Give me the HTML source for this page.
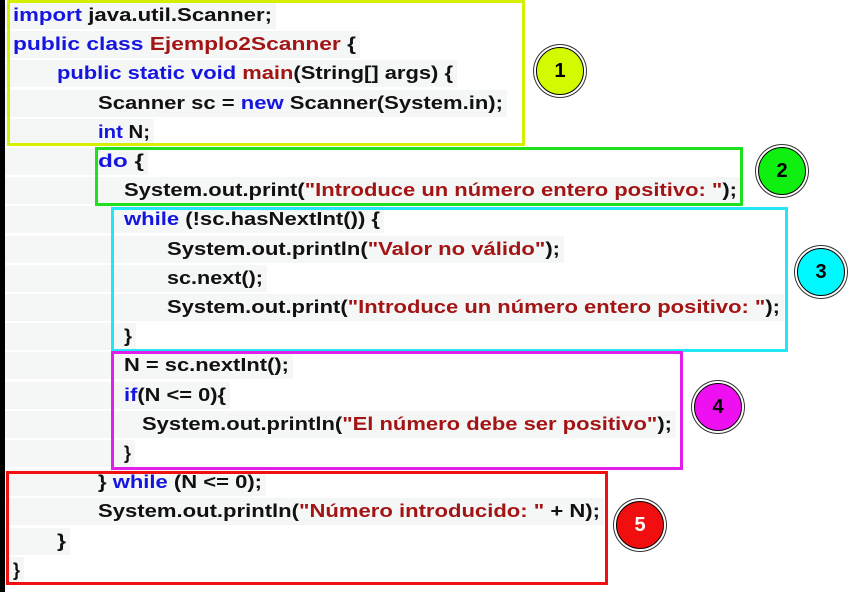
<!DOCTYPE html>
<html><head><meta charset="utf-8">
<style>
html,body{margin:0;padding:0;background:#fff;width:867px;height:592px;overflow:hidden;position:relative;font-family:"Liberation Sans",Arial,sans-serif;}
#strip{position:absolute;left:0;top:0;width:5px;height:592px;background:#000;}
.ln{position:absolute;left:5px;height:27px;line-height:27px;font-size:18px;font-weight:bold;color:#111;white-space:nowrap;}
.ln .bg{position:absolute;left:0;top:0;height:27px;background:#f5f6f6;}
.ln .t{position:absolute;top:0;transform-origin:0 50%;}
.k{color:#1515e0}.r{color:#a31515}
.box{position:absolute;border:3px solid;box-sizing:border-box;}
.c{position:absolute;width:48px;height:48px;border-radius:50%;border:1px solid #000;box-shadow:0 0 0 2px #fff,0 0 0 3px #333;box-sizing:border-box;text-align:center;line-height:46px;font-size:20px;font-weight:bold;color:#000;}
</style></head><body>
<div id="strip"></div>
<div id="code"></div>

<div class="box" style="left:7px;top:0px;width:518px;height:146px;border-color:#d4f000"></div>
<div class="box" style="left:95px;top:147px;width:648px;height:59px;border-color:#1fe01f"></div>
<div class="box" style="left:111px;top:207px;width:677px;height:145px;border-color:#22e5f5"></div>
<div class="box" style="left:111px;top:351px;width:572px;height:119px;border-color:#e020e8"></div>
<div class="box" style="left:6px;top:471px;width:602px;height:114px;border-color:#f01010"></div>

<div class="c" style="left:536px;top:47px;background:#d4fa00">1</div>
<div class="c" style="left:758px;top:147px;background:#10f010">2</div>
<div class="c" style="left:797px;top:248px;background:#00f8ff">3</div>
<div class="c" style="left:694px;top:383px;background:#ee10f0">4</div>
<div class="c" style="left:616px;top:501px;background:#f00e0e;color:#fff">5</div>

<script>
var lines=[
[13,272,'<span class="k">import</span> java.util.Scanner;'],
[13,356,'<span class="k">public class</span> <span class="r">Ejemplo2Scanner</span> {'],
[57,453,'<span class="k">public static void</span> <span class="r">main</span>(String[] args) {'],
[98,503,'Scanner sc = <span class="k">new</span> Scanner(System.in);'],
[98,150,'<span class="k">int</span> N;'],
[98,144,'<span class="k">do</span> {'],
[124,737,'System.out.print(<span class="r">"Introduce un número entero positivo: "</span>);'],
[124,380,'<span class="k">while</span> (!sc.hasNextInt()) {'],
[167,560,'System.out.println(<span class="r">"Valor no válido"</span>);'],
[167,263,'sc.next();'],
[167,780,'System.out.print(<span class="r">"Introduce un número entero positivo: "</span>);'],
[124,132,'}'],
[124,289,'N = sc.nextInt();'],
[124,226,'<span class="k">if</span>(N &lt;= 0){'],
[142,672,'System.out.println(<span class="r">"El número debe ser positivo"</span>);'],
[124,131,'}'],
[98,262,'} <span class="k">while</span> (N &lt;= 0);'],
[98,600,'System.out.println(<span class="r">"Número introducido: "</span> + N);'],
[57,66,'}'],
[13,20,'}']
];
var code=document.getElementById('code');
lines.forEach(function(l,i){
  var d=document.createElement('div');
  d.className='ln';
  
  
  d.style.top=(2+i*29.2)+'px';
  var bg=document.createElement('div');bg.className='bg';
  bg.style.width=(l[1]-5+4)+'px';
  var t=document.createElement('span');t.className='t';
  t.style.left=(l[0]-5)+'px';
  t.innerHTML=l[2];
  d.appendChild(bg);d.appendChild(t);code.appendChild(d);
  var w=t.getBoundingClientRect().width;
  var target=l[1]-l[0];
  if(w>0)t.style.transform='scaleX('+(target/w)+')';
});
</script>
</body></html>
